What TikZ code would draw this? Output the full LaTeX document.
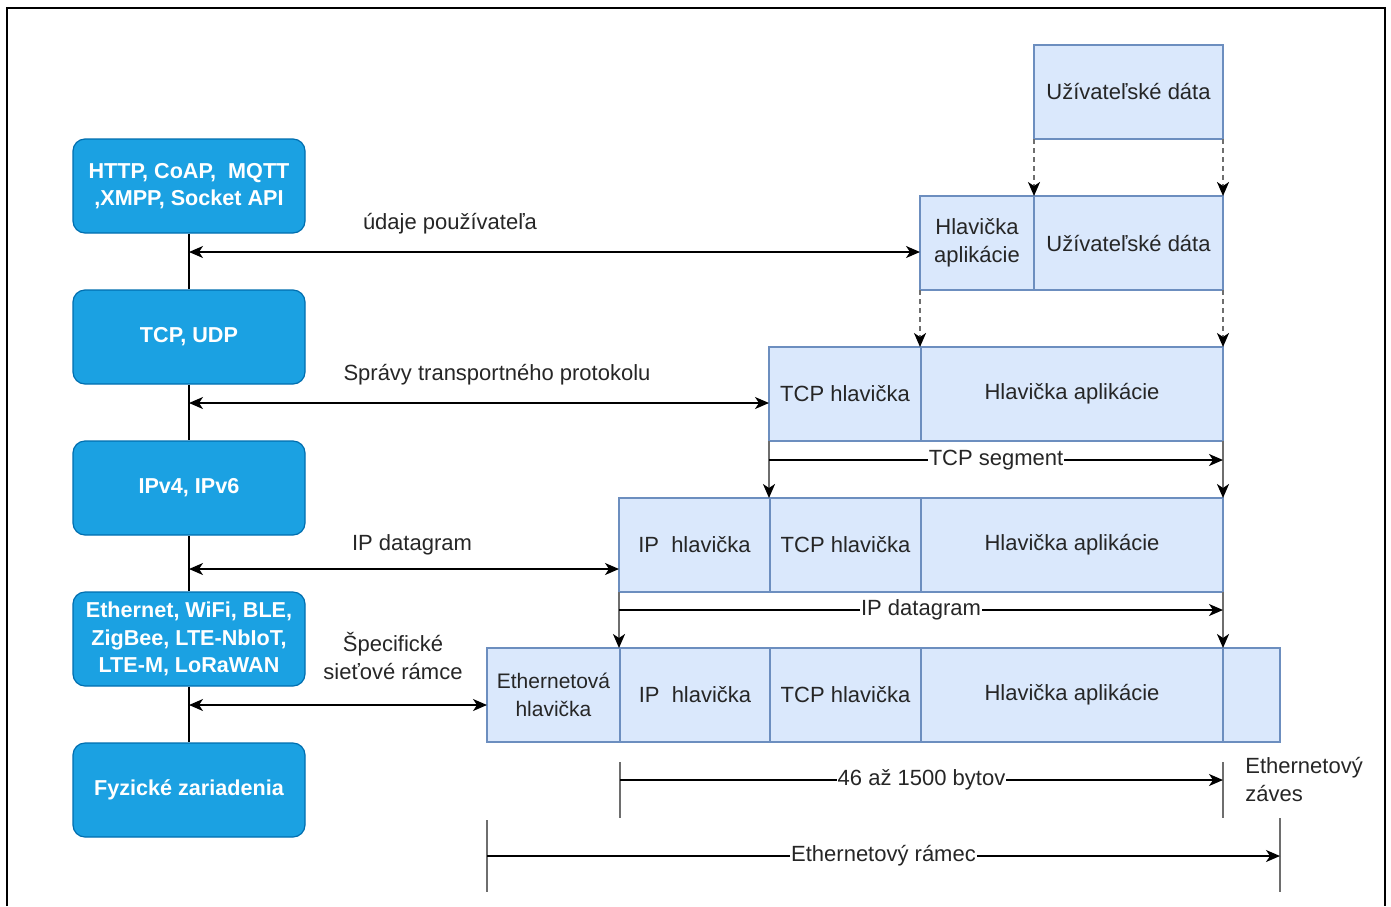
\documentclass[tikz,border=0pt]{standalone}
\usepackage{fontspec}
\setmainfont{Liberation Sans}
\usetikzlibrary{arrows.meta}
\definecolor{layerfill}{HTML}{1BA1E2}
\definecolor{layerdraw}{HTML}{006EAF}
\definecolor{cellfill}{HTML}{DAE8FC}
\definecolor{celldraw}{HTML}{6C8EBF}
\definecolor{txt}{HTML}{262626}
\definecolor{guide}{HTML}{6E6E6E}
\begin{document}
\begin{tikzpicture}[x=0.5pt,y=-0.5pt,
  font=\fontsize{11pt}{14pt}\selectfont,
  layer/.style={draw=layerdraw, fill=layerfill, rounded corners=6pt,
    minimum width=116pt, minimum height=47pt, text=white, align=center,
    font=\bfseries\fontsize{10.8pt}{13.75pt}\selectfont, line width=0.6pt, inner sep=2pt},
  cell/.style={draw=celldraw, fill=cellfill, minimum height=47pt, inner sep=0pt,
    outer sep=0pt, align=center, text=txt, line width=0.8pt},
  lbl/.style={text=txt, align=center, inner sep=1pt},
  tipa/.style={-{Stealth[length=7pt,width=6pt,inset=2pt,color=black]}},
  dbl/.style={{Stealth[length=7pt,width=6pt,inset=2pt]}-{Stealth[length=7pt,width=6pt,inset=2pt]}, line width=0.8pt, draw=black},
  drop/.style={tipa, draw=guide, line width=1pt, dashed, dash pattern=on 2.5pt off 2pt},
  solidrop/.style={tipa, draw=guide, line width=1pt},
  dim/.style={tipa, draw=black, line width=0.8pt},
  tick/.style={draw=guide, line width=1.1pt},
  dimlbl/.style={fill=white, text=txt, inner sep=0.5pt}
]
\useasboundingbox (0,0) rectangle (1391,906);
\draw[line width=1pt] (7,906) -- (7,8) -- (1385,8) -- (1385,906);

% protocol layers
\node[layer] (L1) at (189,186) {HTTP, CoAP,\ \ MQTT\\,XMPP, Socket API};
\node[layer] (L2) at (189,337) {TCP, UDP};
\node[layer] (L3) at (189,488) {IPv4, IPv6};
\node[layer] (L4) at (189,639) {Ethernet, WiFi, BLE,\\ZigBee, LTE-NbIoT,\\LTE-M, LoRaWAN};
\node[layer] (L5) at (189,790) {Fyzické zariadenia};
\draw[line width=0.8pt] (L1.south) -- (L2.north);
\draw[line width=0.8pt] (L2.south) -- (L3.north);
\draw[line width=0.8pt] (L3.south) -- (L4.north);
\draw[line width=0.8pt] (L4.south) -- (L5.north);

% row 0
\node[cell, minimum width=94.5pt] (U0) at (1128.5,92) {Užívateľské dáta};
% row 1
\node[cell, minimum width=57pt] (A1) at (977,243) {Hlavička\\aplikácie};
\node[cell, minimum width=94.5pt] (U1) at (1128.5,243) {Užívateľské dáta};
% row 2
\node[cell, minimum width=76pt] (T2) at (845,394) {TCP hlavička};
\node[cell, minimum width=151pt] (H2) at (1072,394) {Hlavička aplikácie};
% row 3
\node[cell, minimum width=75.5pt] (I3) at (694.5,545) {IP\ \ hlavička};
\node[cell, minimum width=75.5pt] (T3) at (845.5,545) {TCP hlavička};
\node[cell, minimum width=151pt] (H3) at (1072,545) {Hlavička aplikácie};
% row 4
\node[cell, minimum width=66.5pt, font=\fontsize{10.5pt}{14pt}\selectfont] (E4) at (553.5,695) {Ethernetová\\hlavička};
\node[cell, minimum width=75pt] (I4) at (695,695) {IP\ \ hlavička};
\node[cell, minimum width=75.5pt] (T4) at (845.5,695) {TCP hlavička};
\node[cell, minimum width=151pt] (H4) at (1072,695) {Hlavička aplikácie};
\node[cell, minimum width=28.5pt] (Z4) at (1251.5,695) {};

% encapsulation drops
\draw[drop] (U0.south west) -- (U1.north west);
\draw[drop] (U0.south east) -- (U1.north east);
\draw[drop] (A1.south west) -- (A1.south west |- T2.north);
\draw[drop] (U1.south east) -- (H2.north east);
\draw[solidrop] (T2.south west) -- (T2.south west |- T3.north);
\draw[solidrop] (H2.south east) -- (H3.north east);
\draw[solidrop] (I3.south west) -- (I3.south west |- I4.north);
\draw[solidrop] (H3.south east) -- (H4.north east);

% layer messages
\coordinate (m1) at (189,252);
\coordinate (m2) at (189,403);
\coordinate (m3) at (189,569);
\coordinate (m4) at (189,705);
\draw[dbl] (m1) -- (m1 -| A1.west);
\draw[dbl] (m2) -- (m2 -| T2.west);
\draw[dbl] (m3) -- (m3 -| I3.west);
\draw[dbl] (m4) -- (m4 -| E4.west);
\node[lbl] (t1) at (450,224) {údaje používateľa};
\node[lbl] (t2) at (497,375) {Správy transportného protokolu};
\node[lbl] (t3) at (412,545) {IP datagram};
\node[lbl] (t4) at (393,656) {Špecifické\\sieťové rámce};

% dimension arrows
\coordinate (s1) at ([yshift=-9.5pt]T2.south west);
\coordinate (s2) at ([yshift=-9.5pt]H2.south east);
\draw[dim] (s1) -- (s2) node[midway, dimlbl] (ts) {TCP segment};
\coordinate (g1) at ([yshift=-9pt]I3.south west);
\coordinate (g2) at ([yshift=-9pt]H3.south east);
\draw[dim] (g1) -- (g2) node[midway, dimlbl] (tg) {IP datagram};

\coordinate (k1a) at (I4.west |- 0,762);
\coordinate (k1b) at (I4.west |- 0,818);
\coordinate (k2a) at (H4.east |- 0,762);
\coordinate (k2b) at (H4.east |- 0,818);
\draw[tick] (k1a) -- (k1b);
\draw[tick] (k2a) -- (k2b);
\coordinate (p1) at (I4.west |- 0,780);
\coordinate (p2) at (H4.east |- 0,780);
\draw[dim] (p1) -- (p2) node[midway, dimlbl] (tp) {46 až 1500 bytov};

\coordinate (k3a) at (E4.west |- 0,820);
\coordinate (k3b) at (E4.west |- 0,892);
\coordinate (k4a) at (Z4.east |- 0,818);
\coordinate (k4b) at (Z4.east |- 0,892);
\draw[tick] (k3a) -- (k3b);
\draw[tick] (k4a) -- (k4b);
\coordinate (f1) at (E4.west |- 0,856);
\coordinate (f2) at (Z4.east |- 0,856);
\draw[dim] (f1) -- (f2) node[midway, dimlbl] (tf) {Ethernetový rámec};

\node[lbl, align=left, anchor=north west] (tz) at (1243,755) {Ethernetový\\záves};
\end{tikzpicture}
\end{document}
